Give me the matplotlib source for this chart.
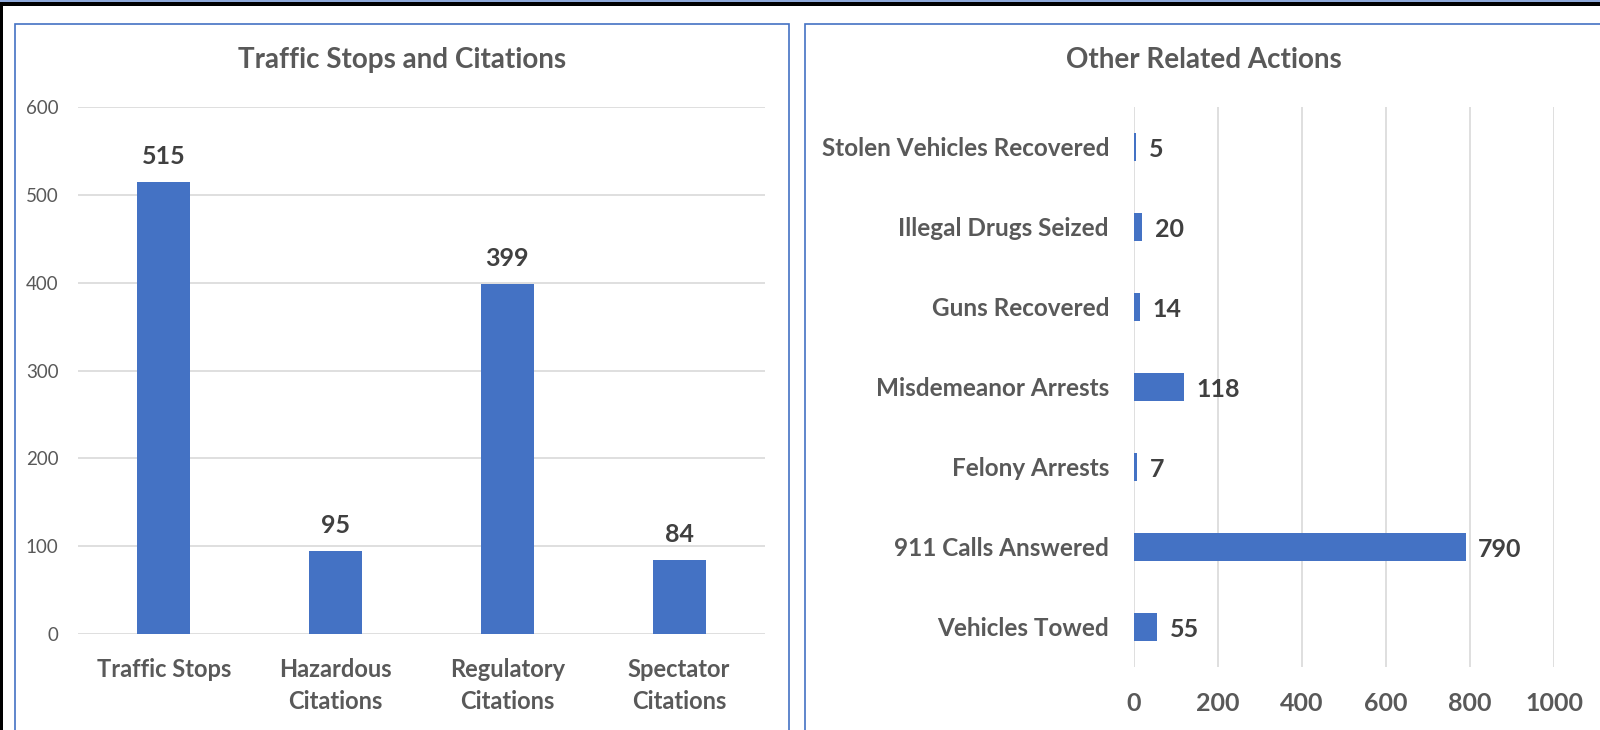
import numpy as np
import matplotlib
matplotlib.use("Agg")
import matplotlib.pyplot as plt
from matplotlib.patches import Rectangle

# data
stop_labels = ["Traffic Stops", "Hazardous\nCitations", "Regulatory\nCitations", "Spectator\nCitations"]
stop_values = [515, 95, 399, 84]
stop_ticks = [0, 100, 200, 300, 400, 500, 600]

action_labels = ["Stolen Vehicles Recovered", "Illegal Drugs Seized", "Guns Recovered",
                 "Misdemeanor Arrests", "Felony Arrests", "911 Calls Answered", "Vehicles Towed"]
action_values = [5, 20, 14, 118, 7, 790, 55]
action_ticks = [0, 200, 400, 600, 800, 1000]

BLUE = "#4472C4"
GRID = "#D9D9D9"
LABEL = "#595959"
DARK = "#404040"

plt.rcParams['font.family'] = ['Lato', 'DejaVu Sans']

W, H = 1600, 730
fig = plt.figure(figsize=(16, 7.3), dpi=100)
fig.patch.set_facecolor("white")


def px_axes(x0, y0, x1, y1):
    # pixel box (top-left origin) -> figure axes
    return fig.add_axes([x0 / W, 1 - y1 / H, (x1 - x0) / W, (y1 - y0) / H])


# background frame: black bands and panel borders
fig.add_artist(Rectangle((0, 1 - 6 / H), 1, 6 / H, transform=fig.transFigure,
                         facecolor="black", edgecolor="none", zorder=0))
fig.add_artist(Rectangle((0, 1 - 1.7 / H), 1, 1.7 / H, transform=fig.transFigure,
                         facecolor="#8EA9DB", edgecolor="none", zorder=1))
fig.add_artist(Rectangle((0, 0), 3.3 / W, 1, transform=fig.transFigure,
                         facecolor="black", edgecolor="none", zorder=0))
fig.add_artist(Rectangle((15 / W, -0.05), (789 - 15) / W, 1.05 - 24 / H, transform=fig.transFigure,
                         facecolor="none", edgecolor=BLUE, linewidth=1.2, zorder=1))
fig.add_artist(Rectangle((805 / W, -0.05), 0.6, 1.05 - 24 / H, transform=fig.transFigure,
                         facecolor="none", edgecolor=BLUE, linewidth=1.2, zorder=1))

# left chart: vertical bars
ax1 = px_axes(78, 107, 765, 634)
x = np.arange(len(stop_values))
ax1.bar(x, stop_values, width=0.31, color=BLUE, zorder=3)
ax1.set_xlim(-0.5, len(stop_values) - 0.5)
ax1.set_ylim(0, 600)
ax1.set_yticks(stop_ticks)
ax1.set_yticklabels([str(t) for t in stop_ticks], fontsize=13.5, color=LABEL)
ax1.set_xticks(x)
ax1.set_xticklabels(stop_labels, fontsize=17, fontweight="bold", color=LABEL, linespacing=1.5)
ax1.tick_params(axis="both", length=0)
ax1.tick_params(axis="x", pad=17)
ax1.tick_params(axis="y", pad=14)
ax1.yaxis.grid(True, color=GRID, linewidth=1.2, zorder=0)
for s in ax1.spines.values():
    s.set_visible(False)
for xi, v in zip(x, stop_values):
    ax1.annotate(str(v), (xi, v), xytext=(0, 10), textcoords="offset points",
                 ha="center", va="bottom", fontsize=18, fontweight="bold", color=DARK)
fig.text(402 / W, 1 - 60 / H, "Traffic Stops and Citations", ha="center", va="center",
         fontsize=20, fontweight="bold", color=LABEL)

# right chart: horizontal bars
ax2 = px_axes(1134, 107, 1554, 667)
y = np.arange(len(action_values))
ax2.barh(y, action_values, height=0.36, color=BLUE, zorder=3)
ax2.set_ylim(len(action_values) - 0.5, -0.5)
ax2.set_xlim(0, 1000)
ax2.set_xticks(action_ticks)
ax2.set_xticklabels([str(t) for t in action_ticks], fontsize=18, fontweight="bold", color=LABEL)
ax2.set_yticks(y)
ax2.set_yticklabels(action_labels, fontsize=17.5, fontweight="bold", color=LABEL)
ax2.tick_params(axis="both", length=0)
ax2.tick_params(axis="x", pad=18)
ax2.tick_params(axis="y", pad=18)
ax2.xaxis.grid(True, color=GRID, linewidth=1.2, zorder=0)
for s in ax2.spines.values():
    s.set_visible(False)
for yi, v in zip(y, action_values):
    ax2.annotate(str(v), (v, yi), xytext=(9, -2), textcoords="offset points",
                 ha="left", va="center", fontsize=18, fontweight="bold", color=DARK)
fig.text(1204 / W, 1 - 60 / H, "Other Related Actions", ha="center", va="center",
         fontsize=20, fontweight="bold", color=LABEL)

fig.savefig("out.png", dpi=100, facecolor="white")
